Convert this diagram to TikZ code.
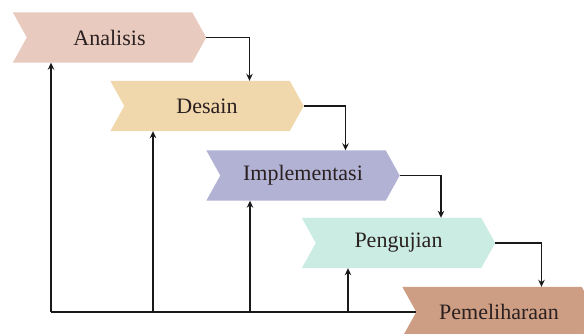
\documentclass[tikz,border=0pt]{standalone}
\usepackage{fontspec}
\setmainfont{Liberation Serif}
\usetikzlibrary{arrows.meta,backgrounds}
\definecolor{cA}{HTML}{E8CABE}
\definecolor{cB}{HTML}{F0D7AC}
\definecolor{cC}{HTML}{B2B2D4}
\definecolor{cD}{HTML}{CAECE2}
\definecolor{cE}{HTML}{CE9E84}
\definecolor{txt}{HTML}{2A2020}
\begin{document}
\begin{tikzpicture}[x=1pt,y=-1pt,
  stagebox/.style={minimum width=179pt,minimum height=50pt,inner sep=0pt,
    font=\fontsize{22}{24}\selectfont,text=txt},
  conn/.style={line width=1.7pt,black!90},
  arr/.style={conn,-{Stealth[length=7pt,width=6.5pt]}}]
\useasboundingbox (0,0) rectangle (584,334);
\clip (0,0) rectangle (584,334);
\node[stagebox] (a) at (102.5,37.5) {\hspace*{14pt}Analisis};
\node[stagebox] (b) at (200,106) {\hspace*{14pt}Desain};
\node[stagebox] (c) at (296,175.5) {\hspace*{14pt}Implementasi};
\node[stagebox] (d) at (391.5,243) {\hspace*{14pt}Pengujian};
\node[stagebox] (e) at (492,312) {\hspace*{14pt}Pemeliharaan};
\begin{scope}[on background layer]
\foreach \n/\c in {a/cA,b/cB,c/cC,d/cD,e/cE}{
  \fill[\c] (\n.north west) -- (\n.north east) -- ([xshift=14pt]\n.east)
    -- (\n.south east) -- (\n.south west) -- ([xshift=14pt]\n.west) -- cycle;
}
\end{scope}
\coordinate (base) at (51,312);
% forward flow
\draw[arr] ([xshift=14pt]a.east) -| ([xshift=49.5pt]b.north);
\draw[arr] ([xshift=14pt]b.east) -| ([xshift=49.5pt]c.north);
\draw[arr] ([xshift=14pt]c.east) -| ([xshift=49.5pt]d.north);
\draw[arr] ([xshift=14pt]d.east) -| ([xshift=49.5pt]e.north);
% feedback
\draw[conn] (base) -- ([xshift=14pt]e.west);
\draw[arr] (base) -- ([xshift=-51.5pt]a.south);
\draw[arr] ([xshift=-47pt]b.south |- base) -- ([xshift=-47pt]b.south);
\draw[arr] ([xshift=-46pt]c.south |- base) -- ([xshift=-46pt]c.south);
\draw[arr] ([xshift=-43.5pt]d.south |- base) -- ([xshift=-43.5pt]d.south);
\end{tikzpicture}
\end{document}
